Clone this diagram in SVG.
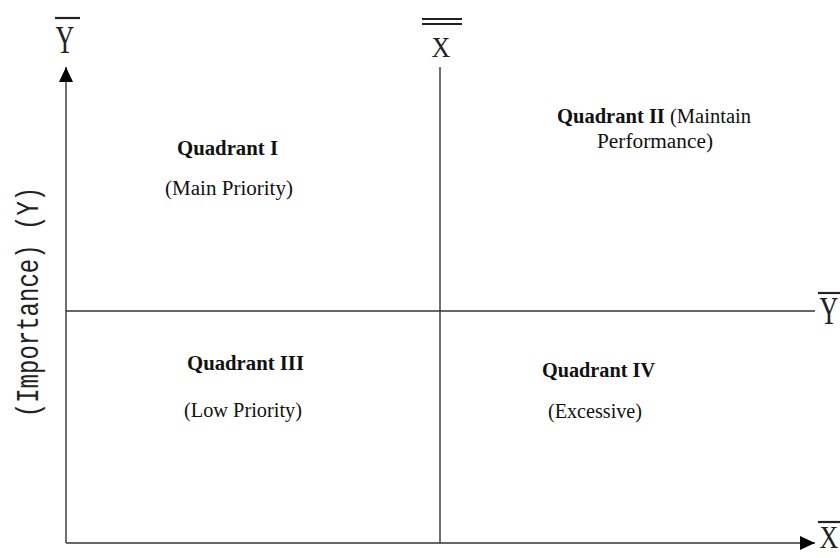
<svg xmlns="http://www.w3.org/2000/svg" width="840" height="558" viewBox="0 0 840 558">
  <style>
    .ax { stroke: #333; stroke-width: 1.4; fill: none; }
    .lbl { font-family: "Liberation Serif", "Times New Roman", serif; font-size: 20px; fill: #111; }
    .b { font-weight: bold; }
    .sym { font-family: "Liberation Serif", "Times New Roman", serif; font-size: 26px; fill: #222; text-anchor: middle; }
    .bar { stroke: #222; stroke-width: 2.2; }
  </style>
  <defs>
    <marker id="arrow" markerWidth="15" markerHeight="14" refX="15" refY="7" orient="auto" markerUnits="userSpaceOnUse">
      <path d="M0,0 L15,7 L0,14 Z" fill="#000"/>
    </marker>
  </defs>
  <rect width="840" height="558" fill="#fff"/>

  <g id="connectors">
    <line class="ax" x1="66" y1="543" x2="66" y2="67" marker-end="url(#arrow)"/>
    <line class="ax" x1="66" y1="543" x2="815" y2="543" marker-end="url(#arrow)"/>
    <line class="ax" x1="440" y1="67" x2="440" y2="543"/>
    <line class="ax" x1="66" y1="311" x2="815" y2="311"/>
  </g>

  <g id="axis-symbols">
    <g id="y-bar-top">
      <line class="bar" x1="55" y1="18" x2="80" y2="18"/>
      <text class="sym" transform="translate(65,53) scale(1,1.5)" x="0" y="0">Y</text>
    </g>
    <g id="x-double-bar">
      <line class="bar" x1="422" y1="19" x2="462" y2="19"/>
      <line class="bar" x1="422" y1="24" x2="462" y2="24"/>
      <text class="sym" transform="translate(441,57) scale(1,1.1)" x="0" y="0">X</text>
    </g>
    <g id="y-bar-right">
      <line class="bar" x1="818" y1="293" x2="840" y2="293"/>
      <text class="sym" transform="translate(829,324) scale(1,1.5)" x="0" y="0">Y</text>
    </g>
    <g id="x-bar-bottom">
      <line class="bar" x1="818" y1="522" x2="840" y2="522"/>
      <text class="sym" transform="translate(829,548) scale(1,1.2)" x="0" y="0">X</text>
    </g>
  </g>

  <g id="axis-title">
    <text transform="translate(38,302) rotate(-90) scale(1,1.3)" x="0" y="0" text-anchor="middle" font-family="'Liberation Mono', 'Courier New', monospace" font-size="24" fill="#222">(Importance) (Y)</text>
  </g>

  <g id="quadrant-1">
    <text class="lbl b" x="177" y="155" textLength="101" lengthAdjust="spacingAndGlyphs">Quadrant I</text>
    <text class="lbl" x="165" y="195" textLength="128" lengthAdjust="spacingAndGlyphs">(Main Priority)</text>
  </g>
  <g id="quadrant-2">
    <text class="lbl" x="557" y="123" textLength="194" lengthAdjust="spacingAndGlyphs"><tspan class="b">Quadrant II</tspan> (Maintain</text>
    <text class="lbl" x="597" y="148" textLength="116" lengthAdjust="spacingAndGlyphs">Performance)</text>
  </g>
  <g id="quadrant-3">
    <text class="lbl b" x="187" y="370" textLength="117" lengthAdjust="spacingAndGlyphs">Quadrant III</text>
    <text class="lbl" x="184" y="417" textLength="118" lengthAdjust="spacingAndGlyphs">(Low Priority)</text>
  </g>
  <g id="quadrant-4">
    <text class="lbl b" x="542" y="377" textLength="113" lengthAdjust="spacingAndGlyphs">Quadrant IV</text>
    <text class="lbl" x="548" y="418" textLength="94" lengthAdjust="spacingAndGlyphs">(Excessive)</text>
  </g>
</svg>
